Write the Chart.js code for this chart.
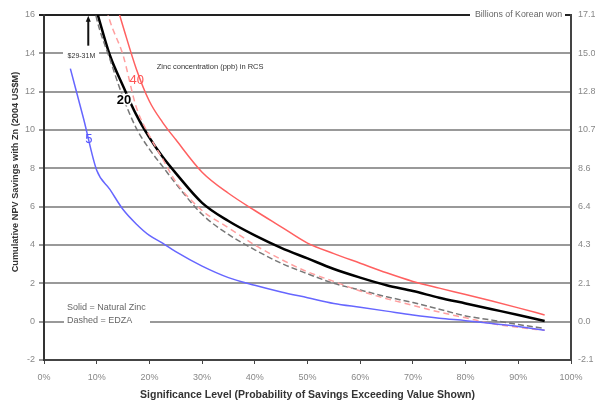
<!DOCTYPE html>
<html>
<head>
<meta charset="utf-8">
<script src="https://cdn.jsdelivr.net/npm/chart.js@4"></script>
<style>
  html, body { margin: 0; padding: 0; background: #fff; }
  #wrap { width: 595px; height: 407px; }
</style>
</head>
<body>
<div id="wrap"><canvas id="myChart" width="595" height="407"></canvas></div>
<script>
// significance level (%)
var pct = [5, 7.5, 10, 12.5, 15, 17.5, 20, 22.5, 25, 30, 35, 40, 45, 50, 55, 60, 65, 70, 75, 80, 85, 90, 95];

// 5 ppb, natural zinc
var blue5 = [13.2, 10.6, 7.9, 6.9, 5.85, 5.1, 4.5, 4.1, 3.65, 2.9, 2.3, 1.9, 1.55, 1.25, 0.95, 0.75, 0.55, 0.35, 0.18, 0.05, -0.1, -0.25, -0.45];
// 20 ppb, natural zinc
var black20 = [null, null, 16.2, 13.9, 12.3, 10.8, 9.6, 8.6, 7.75, 6.2, 5.25, 4.5, 3.85, 3.3, 2.75, 2.3, 1.9, 1.6, 1.25, 0.95, 0.65, 0.35, 0.03];
// 40 ppb, natural zinc
var red40 = [null, null, null, 17.7, 15.4, 13.2, 11.5, 10.4, 9.5, 7.8, 6.7, 5.8, 4.95, 4.1, 3.55, 3.05, 2.55, 2.1, 1.75, 1.42, 1.08, 0.72, 0.35];
// 20 ppb, EDZA
var gray20 = [null, 19.2, 15.8, 13.7, 11.7, 10.1, 9.0, 8.1, 7.2, 5.6, 4.55, 3.75, 3.05, 2.5, 2.0, 1.65, 1.3, 1.0, 0.65, 0.3, 0.08, -0.15, -0.35];
// 40 ppb, EDZA
var pink40 = [null, null, 18.3, 15.7, 13.9, 11.2, 9.7, 8.5, 7.3, 5.8, 4.9, 4.0, 3.25, 2.6, 2.1, 1.6, 1.2, 0.85, 0.5, 0.2, -0.1, -0.3, -0.45];

// right axis (billions of Korean won) labels for left ticks
var leftTicks = [-2, 0, 2, 4, 6, 8, 10, 12, 14, 16];
var wonTicks = ['-2.1', '0.0', '2.1', '4.3', '6.4', '8.6', '10.7', '12.8', '15.0', '17.1'];

function pts(ys) {
    var out = [];
    for (var i = 0; i < pct.length; i++) {
        if (ys[i] !== null) out.push({ x: pct[i], y: ys[i] });
    }
    return out;
}

var font = 'Liberation Sans, Arial, sans-serif';

// text notes drawn on the plot
var notes = {
    id: 'notes',
    afterDraw: function (chart) {
        var c = chart.ctx, x = chart.scales.x, y = chart.scales.y;
        c.save();
        c.textBaseline = 'middle';

        // left axis title
        c.save();
        c.translate(15, 172);
        c.rotate(-Math.PI / 2);
        c.textAlign = 'center';
        c.fillStyle = '#333';
        c.font = 'bold 9.2px ' + font;
        c.fillText('Cumulative NPV Savings with Zn (2004 US$M)', 0, 0);
        c.restore();

        // break in the zero line for the legend text
        c.fillStyle = '#fff';
        c.fillRect(64, y.getPixelForValue(0) - 2, 86, 4);
        c.fillStyle = '#666';
        c.font = '9px ' + font;
        c.textAlign = 'left';
        c.fillText('Solid = Natural Zinc', 67, y.getPixelForValue(0.75));
        c.fillText('Dashed = EDZA', 67, y.getPixelForValue(0.05));

        // billions of Korean won label on top border
        c.fillStyle = '#fff';
        c.fillRect(470, y.top - 4, 95, 8);
        c.fillStyle = '#666';
        c.font = '8.8px ' + font;
        c.fillText('Billions of Korean won', 475, y.top);

        // curve labels
        c.textAlign = 'center';
        c.font = '13px ' + font;
        c.fillStyle = '#5555ff';
        c.fillText('5', x.getPixelForValue(8.5), y.getPixelForValue(9.5));
        c.fillStyle = '#ff5555';
        c.fillText('40', x.getPixelForValue(17.6), y.getPixelForValue(12.6));
        c.font = 'bold 13px ' + font;
        c.lineWidth = 3;
        c.strokeStyle = '#fff';
        c.strokeText('20', x.getPixelForValue(15.2), y.getPixelForValue(11.55));
        c.fillStyle = '#000';
        c.fillText('20', x.getPixelForValue(15.2), y.getPixelForValue(11.55));

        c.font = '7.5px ' + font;
        c.textAlign = 'left';
        c.fillStyle = '#333';
        c.fillText('Zinc concentration (ppb) in RCS', x.getPixelForValue(21.4), y.getPixelForValue(13.3));

        c.fillStyle = '#fff';
        c.fillRect(63, y.getPixelForValue(14) - 4, 36, 8);
        c.textAlign = 'center';
        c.fillStyle = '#333';
        c.font = '7px ' + font;
        c.fillText('$29-31M', x.getPixelForValue(7.1), y.getPixelForValue(13.85));

        // arrow
        var ax = x.getPixelForValue(8.4);
        var y0 = y.getPixelForValue(14.4), y1 = y.getPixelForValue(15.75);
        c.strokeStyle = '#111';
        c.lineWidth = 2;
        c.beginPath();
        c.moveTo(ax, y0);
        c.lineTo(ax, y1);
        c.stroke();
        c.fillStyle = '#111';
        c.beginPath();
        c.moveTo(ax, y1 - 4);
        c.lineTo(ax - 2.5, y1 + 2);
        c.lineTo(ax + 2.5, y1 + 2);
        c.closePath();
        c.fill();
        c.restore();
    }
};

var ctx = document.getElementById('myChart').getContext('2d');
var myChart = new Chart(ctx, {
    type: 'line',
    data: {
        datasets: [
            { label: '5 natural', data: pts(blue5), borderColor: '#6666ff', borderWidth: 1.5 },
            { label: '40 EDZA', data: pts(pink40), borderColor: '#ff9f9f', borderWidth: 1.5, borderDash: [6, 4] },
            { label: '20 EDZA', data: pts(gray20), borderColor: '#777', borderWidth: 1.5, borderDash: [6, 3] },
            { label: '40 natural', data: pts(red40), borderColor: '#ff6060', borderWidth: 1.5 },
            { label: '20 natural', data: pts(black20), borderColor: '#000', borderWidth: 2.5 }
        ]
    },
    options: {
        responsive: false,
        animation: false,
        layout: { padding: { top: 15, right: 0, bottom: 0, left: 0 } },
        elements: {
            point: { radius: 0 },
            line: { cubicInterpolationMode: 'monotone' }
        },
        plugins: { legend: { display: false }, tooltip: { enabled: false } },
        scales: {
            x: {
                type: 'linear',
                min: 0, max: 100,
                afterFit: function (s) { s.height = 47; },
                grid: { drawOnChartArea: false, drawTicks: true, tickLength: 4, color: '#444' },
                border: { color: '#444', width: 2 },
                ticks: {
                    stepSize: 10,
                    color: '#888',
                    font: { family: font, size: 9 },
                    padding: 8,
                    callback: function (v) { return v + '%'; }
                },
                title: {
                    display: true,
                    text: 'Significance Level (Probability of Savings Exceeding Value Shown)',
                    color: '#333',
                    font: { family: font, size: 10.5, weight: 'bold' },
                    padding: { top: 0, bottom: 6 }
                }
            },
            y: {
                min: -2, max: 16,
                afterFit: function (s) { s.width = 44; },
                grid: {
                    color: function (c) { return c.tick.value === 16 ? '#222' : '#999'; },
                    lineWidth: 2,
                    tickLength: 5
                },
                border: { color: '#333', width: 2 },
                ticks: {
                    stepSize: 2,
                    color: '#888',
                    font: { family: font, size: 9 },
                    padding: 4
                }
            },
            y2: {
                position: 'right',
                min: -2, max: 16,
                afterFit: function (s) { s.width = 24; },
                grid: { display: false, drawTicks: false },
                border: { color: '#444', width: 2 },
                ticks: {
                    stepSize: 2,
                    color: '#888',
                    font: { family: font, size: 9 },
                    padding: 7,
                    callback: function (v) {
                        var i = leftTicks.indexOf(v);
                        return i >= 0 ? wonTicks[i] : '';
                    }
                }
            }
        }
    },
    plugins: [notes]
});
</script>
</body>
</html>
